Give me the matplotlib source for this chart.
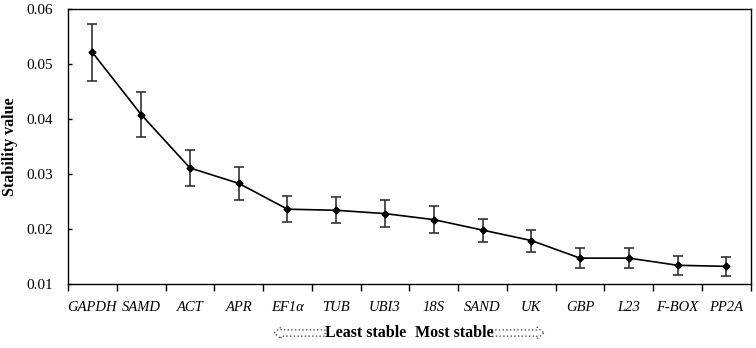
import matplotlib.pyplot as plt
from matplotlib.patches import FancyArrow

plt.rcParams['font.family'] = ['Liberation Serif', 'DejaVu Serif']

# Stability values
genes = ['GAPDH', 'SAMD', 'ACT', 'APR', 'EF1α', 'TUB', 'UBI3', '18S',
         'SAND', 'UK', 'GBP', 'L23', 'F-BOX', 'PP2A']
stability = [0.0521, 0.0408, 0.0311, 0.0283, 0.0236, 0.0234, 0.0228, 0.0217,
             0.0198, 0.0179, 0.0147, 0.0147, 0.0134, 0.0132]
errors = [0.0052, 0.0041, 0.0032, 0.0030, 0.0024, 0.0024, 0.0024, 0.0024,
          0.0021, 0.0020, 0.0018, 0.0018, 0.0017, 0.0017]

fig = plt.figure(figsize=(7.56, 3.48), dpi=100)
ax = fig.add_axes([0.090, 0.184, 0.903, 0.790])

x = list(range(len(genes)))
ax.errorbar(x, stability, yerr=errors, color='black', ecolor='#333333',
            elinewidth=1.2, capsize=3.5, capthick=1.2, linewidth=1.2,
            marker='D', markersize=3.5)

ax.set_xlim(-0.5, len(genes) - 0.5)
ax.set_ylim(0.01, 0.06)
ax.set_yticks([0.01, 0.02, 0.03, 0.04, 0.05, 0.06])
ax.set_yticklabels(['0.01', '0.02', '0.03', '0.04', '0.05', '0.06'], fontsize=11)
ax.tick_params(axis='y', direction='in', length=3, width=1, pad=11)

# category labels between boundary ticks
ax.set_xticks([i - 0.5 for i in range(len(genes) + 1)])
ax.set_xticklabels([])
ax.set_xticks(x, minor=True)
ax.set_xticklabels(genes, minor=True, fontsize=10.5, style='italic')
ax.tick_params(axis='x', which='major', direction='out', length=5, width=1)
ax.tick_params(axis='x', which='minor', length=0, pad=12)

ax.set_ylabel('Stability value', fontsize=11.5, fontweight='bold')
ax.yaxis.set_label_coords(-0.074, 0.5)
for s in ax.spines.values():
    s.set_linewidth(1.0)

# "Least stable / Most stable" note with hollow dotted arrows
yc = 1 - 333 / 348
fig.text(325 / 756, yc, 'Least stable', fontsize=11.5, fontweight='bold', ha='left', va='center')
fig.text(415 / 756, yc, 'Most stable', fontsize=11.5, fontweight='bold', ha='left', va='center')
left_arrow = FancyArrow(325 / 756, yc, -44 / 756, 0, width=0.018, head_width=0.034,
                        head_length=0.009, transform=fig.transFigure,
                        facecolor='white', edgecolor='#555555', linestyle=':', linewidth=1.0)
right_arrow = FancyArrow(492 / 756, yc, 45 / 756, 0, width=0.018, head_width=0.034,
                         head_length=0.009, transform=fig.transFigure,
                         facecolor='white', edgecolor='#555555', linestyle=':', linewidth=1.0)
fig.patches.extend([left_arrow, right_arrow])

fig.savefig('out.png', dpi=100)
